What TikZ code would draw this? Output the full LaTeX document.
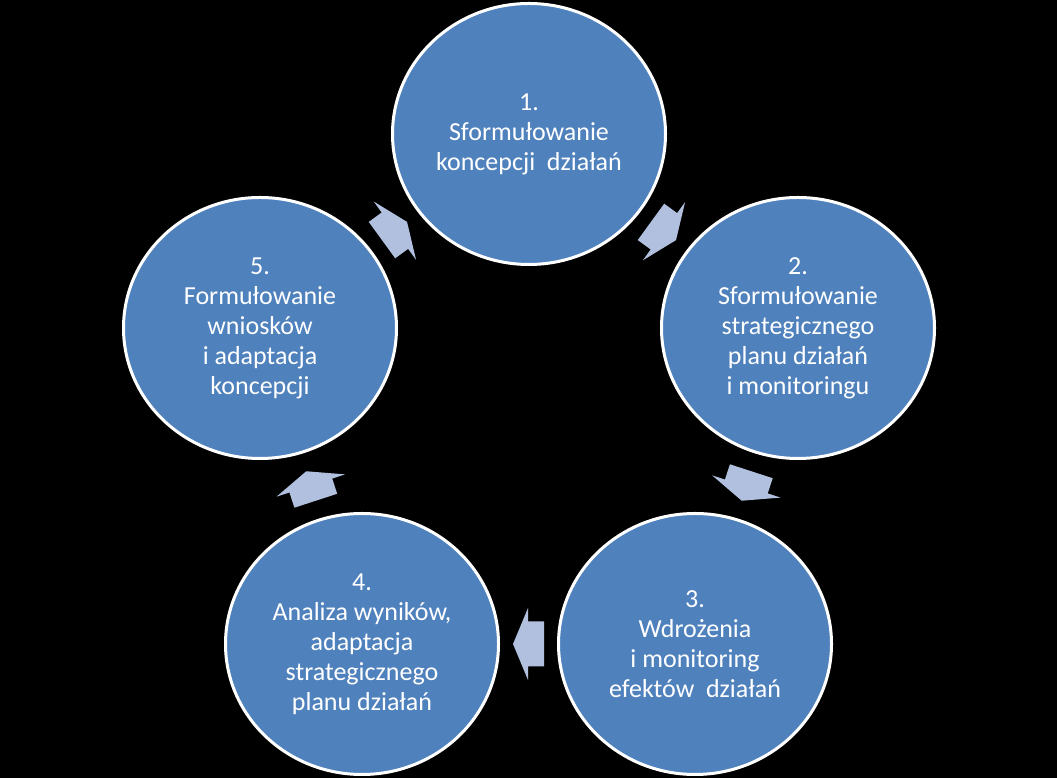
\documentclass[tikz,border=0pt]{standalone}
\usepackage{fontspec}
\setmainfont{Carlito}
\usetikzlibrary{shapes.geometric,calc}
\definecolor{stepblue}{RGB}{79,129,189}
\definecolor{arrowblue}{RGB}{177,192,222}
\begin{document}
\begin{tikzpicture}[
    x=1pt, y=1pt,
    stage/.style={
        ellipse,
        draw=white,
        line width=3pt,
        fill=stepblue,
        minimum width=273pt,
        minimum height=261pt,
        inner sep=0pt,
        text=white,
        align=center,
        font=\fontsize{26}{30}\selectfont
    },
    pics/cyclearrow/.style={
        code={
            \fill[arrowblue]
                (-15.5,-22.5) -- (0.5,-22.5) -- (0.5,-36) --
                (15.5,0) --
                (0.5,36) -- (0.5,22.5) -- (-15.5,22.5) -- cycle;
        }
    }
]
    % tło
    \fill[black] (0,0) rectangle (1057,778);
    \useasboundingbox (0,0) rectangle (1057,778);

    \node[stage] (c1) at (529,644)
        {1.\\Sformułowanie\\koncepcji\ \ działań};

    \node[stage] (c2) at (798,450)
        {2.\\Sformułowanie\\strategicznego\\planu działań\\i monitoringu};

    \node[stage] (c3) at (695,134)
        {3.\\Wdrożenia\\i monitoring\\efektów\ \ działań};

    \node[stage] (c4) at (362,134)
        {4.\\Analiza wyników,\\adaptacja\\strategicznego\\planu działań};

    \node[stage] (c5) at (260,450)
        {5.\\Formułowanie\\wniosków\\i adaptacja\\koncepcji};

    % Strzałki w połowie drogi między kołami
    \pic[rotate=-36] at ($(c1)!0.5!(c2)$) {cyclearrow};
    \pic[rotate=-108] at ($(c2)!0.5!(c3)$) {cyclearrow};
    \pic[rotate=180] at ($(c3)!0.5!(c4)$) {cyclearrow};
    \pic[rotate=108] at ($(c4)!0.5!(c5)$) {cyclearrow};
    \pic[rotate=36] at ($(c5)!0.5!(c1)$) {cyclearrow};
\end{tikzpicture}
\end{document}
